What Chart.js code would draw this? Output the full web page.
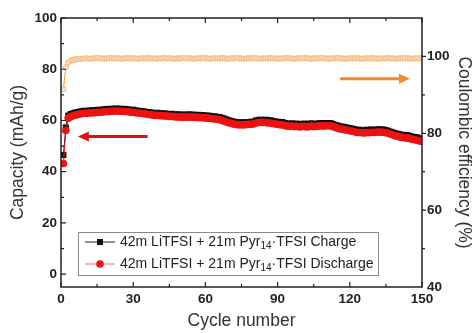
<!DOCTYPE html>
<html>
<head>
<meta charset="utf-8">
<script src="https://cdn.jsdelivr.net/npm/chart.js@4.4.0/dist/chart.umd.min.js"></script>
<style>
  html, body { margin: 0; padding: 0; background: #fff; }
</style>
</head>
<body>
<canvas id="chart" width="474" height="333"></canvas>
<script>
// capacity / coulombic efficiency vs cycle number

var charge = [
  46.5, 57.3, 61.9, 62.5, 62.8, 63.1, 63.3, 63.5, 63.7, 63.8,
  63.7, 63.9, 64.0, 63.9, 64.1, 64.2, 64.1, 64.4, 64.5, 64.4,
  64.6, 64.5, 64.7, 64.5, 64.6, 64.4, 64.5, 64.3, 64.1, 64.2,
  63.9, 63.8, 63.7, 63.6, 63.4, 63.3, 63.2, 63.0, 62.9, 63.0,
  62.8, 62.7, 62.8, 62.6, 62.5, 62.6, 62.4, 62.3, 62.4, 62.2,
  62.3, 62.2, 62.4, 62.2, 62.3, 62.1, 62.2, 62.0, 62.1, 61.9,
  61.9, 61.8, 61.6, 61.6, 61.4, 61.3, 61.0, 60.7, 60.3, 60.0,
  59.7, 59.5, 59.3, 59.2, 59.3, 59.2, 59.3, 59.4, 59.5, 59.5,
  60.0, 60.2, 60.3, 60.1, 60.3, 60.0, 60.1, 59.8, 59.6, 59.5,
  59.3, 59.4, 59.0, 58.8, 58.7, 58.9, 58.6, 58.8, 58.5, 58.6,
  58.8, 58.5, 58.7, 58.9, 58.6, 58.7, 58.9, 59.0, 58.8, 59.0,
  58.9, 59.0, 58.6, 58.3, 58.0, 57.7, 57.6, 57.4, 57.2, 57.0,
  56.8, 56.6, 56.3, 56.4, 56.2, 56.1, 56.4, 56.2, 56.5, 56.3,
  56.4, 56.6, 56.4, 56.5, 56.2, 56.0, 55.6, 55.3, 55.0, 54.8,
  54.5, 54.4, 54.2, 54.3, 53.9, 53.7, 53.5, 53.4, 53.0, 52.9
];

var discharge = [
  43.2, 56.1, 60.9, 61.5, 61.8, 62.1, 62.3, 62.5, 62.7, 62.8,
  62.8, 62.9, 63.0, 63.0, 63.1, 63.2, 63.2, 63.4, 63.5, 63.5,
  63.6, 63.6, 63.7, 63.6, 63.6, 63.5, 63.5, 63.4, 63.2, 63.2,
  63.0, 62.9, 62.8, 62.7, 62.5, 62.4, 62.3, 62.1, 62.0, 62.0,
  61.9, 61.8, 61.8, 61.7, 61.6, 61.6, 61.5, 61.4, 61.4, 61.3,
  61.3, 61.3, 61.4, 61.3, 61.3, 61.2, 61.2, 61.1, 61.1, 61.0,
  60.9, 60.8, 60.7, 60.6, 60.5, 60.3, 60.0, 59.7, 59.3, 59.0,
  58.8, 58.5, 58.4, 58.3, 58.3, 58.3, 58.4, 58.5, 58.5, 58.6,
  59.0, 59.2, 59.3, 59.2, 59.2, 59.0, 59.0, 58.8, 58.6, 58.5,
  58.3, 58.3, 58.0, 57.8, 57.7, 57.8, 57.6, 57.7, 57.5, 57.6,
  57.7, 57.5, 57.6, 57.8, 57.6, 57.7, 57.8, 57.9, 57.8, 57.9,
  57.9, 57.9, 57.6, 57.3, 57.0, 56.7, 56.6, 56.4, 56.2, 56.0,
  55.8, 55.6, 55.3, 55.3, 55.2, 55.1, 55.3, 55.2, 55.4, 55.3,
  55.4, 55.5, 55.4, 55.4, 55.2, 55.0, 54.6, 54.3, 54.0, 53.8,
  53.5, 53.4, 53.2, 53.2, 52.9, 52.7, 52.5, 52.3, 52.0, 51.8
];

var efficiency = [
  91.5, 97.2, 98.4, 98.9, 99.1, 99.3, 99.3, 99.4, 99.4, 99.5,
  99.5, 99.4, 99.5, 99.5, 99.6, 99.5, 99.5, 99.4, 99.5, 99.5,
  99.6, 99.5, 99.5, 99.5, 99.4, 99.5, 99.5, 99.6, 99.5, 99.5,
  99.5, 99.4, 99.5, 99.5, 99.5, 99.6, 99.5, 99.5, 99.5, 99.4,
  99.5, 99.5, 99.6, 99.5, 99.5, 99.5, 99.4, 99.5, 99.5, 99.5,
  99.6, 99.5, 99.5, 99.5, 99.4, 99.5, 99.5, 99.5, 99.6, 99.5,
  99.5, 99.4, 99.5, 99.5, 99.5, 99.5, 99.6, 99.5, 99.4, 99.5,
  99.5, 99.5, 99.6, 99.5, 99.5, 99.4, 99.5, 99.5, 99.5, 99.6,
  99.5, 99.5, 99.4, 99.5, 99.5, 99.5, 99.6, 99.5, 99.5, 99.4,
  99.5, 99.5, 99.5, 99.6, 99.5, 99.5, 99.4, 99.5, 99.5, 99.5,
  99.6, 99.5, 99.5, 99.4, 99.5, 99.5, 99.5, 99.6, 99.5, 99.5,
  99.4, 99.5, 99.5, 99.5, 99.6, 99.5, 99.5, 99.4, 99.5, 99.5,
  99.5, 99.6, 99.5, 99.5, 99.4, 99.5, 99.5, 99.5, 99.6, 99.5,
  99.5, 99.4, 99.5, 99.5, 99.5, 99.6, 99.5, 99.5, 99.4, 99.5,
  99.5, 99.5, 99.6, 99.5, 99.5, 99.4, 99.5, 99.5, 99.5, 99.5
];

var xTicks = [0, 30, 60, 90, 120, 150];
var yTicks = [0, 20, 40, 60, 80, 100];
var y2Ticks = [40, 60, 80, 100];

var legendText = ['42m LiTFSI + 21m Pyr', '14', '\u00b7TFSI '];
var seriesNames = ['Charge', 'Discharge'];

var cycles = [];
for (var i = 1; i <= charge.length; i++) cycles.push(i);

function pts(arr) {
  return arr.map((v, i) => ({ x: cycles[i], y: v }));
}

var tickFont = { family: 'Liberation Sans', size: 13.5, weight: 'bold' };
var titleFont = { family: 'Liberation Sans', size: 17.5 };

// frame + inward ticks + arrows
var framePlugin = {
  id: 'frame',
  afterDatasetsDraw(chart) {
    var ctx = chart.ctx, a = chart.chartArea;
    var sx = chart.scales.x, sy = chart.scales.y, sy2 = chart.scales.y2;
    ctx.save();
    ctx.strokeStyle = '#222';
    ctx.lineWidth = 1.5;
    ctx.strokeRect(a.left, a.top, a.right - a.left, a.bottom - a.top);
    ctx.lineWidth = 1.2;
    ctx.beginPath();
    for (var v = 0; v <= 150; v += 15) {
      var px = sx.getPixelForValue(v), len = v % 30 === 0 ? 5 : 3;
      ctx.moveTo(px, a.bottom); ctx.lineTo(px, a.bottom - len);
      ctx.moveTo(px, a.top); ctx.lineTo(px, a.top + len);
    }
    for (var v = 0; v <= 100; v += 10) {
      var py = sy.getPixelForValue(v), len = v % 20 === 0 ? 5 : 3;
      ctx.moveTo(a.left, py); ctx.lineTo(a.left + len, py);
    }
    for (var v = 50; v <= 100; v += 10) {
      var py = sy2.getPixelForValue(v), len = v % 20 === 0 ? 4 : 3;
      ctx.moveTo(a.right, py); ctx.lineTo(a.right + len, py);
    }
    ctx.stroke();

    arrow(ctx, sx.getPixelForValue(36), sy.getPixelForValue(53.7), sx.getPixelForValue(7), '#e01010');
    arrow(ctx, sx.getPixelForValue(116), sy2.getPixelForValue(94.2), sx.getPixelForValue(145), '#f08a30');
    ctx.restore();
  }
};

function arrow(ctx, x0, y, x1, color) {
  var dir = x1 > x0 ? 1 : -1;
  ctx.strokeStyle = color;
  ctx.fillStyle = color;
  ctx.lineWidth = 3;
  ctx.beginPath();
  ctx.moveTo(x0, y); ctx.lineTo(x1 - dir * 8, y);
  ctx.stroke();
  ctx.beginPath();
  ctx.moveTo(x1, y);
  ctx.lineTo(x1 - dir * 11, y - 5);
  ctx.lineTo(x1 - dir * 11, y + 5);
  ctx.closePath();
  ctx.fill();
}

// legend box inside the plot
var legendPlugin = {
  id: 'boxLegend',
  afterDraw(chart) {
    var ctx = chart.ctx;
    var rows = [
      { line: '#222', fill: '#111', shape: 'rect', name: seriesNames[0] },
      { line: '#f07070', fill: '#ee1111', shape: 'circle', name: seriesNames[1] }
    ];
    ctx.save();
    ctx.fillStyle = '#fff';
    ctx.fillRect(78, 232, 300, 43);
    ctx.strokeStyle = '#8a8a8a';
    ctx.lineWidth = 1;
    ctx.strokeRect(78.5, 232.5, 300, 43);
    rows.forEach(function (r, i) {
      var y = 242 + i * 22;
      ctx.strokeStyle = r.line;
      ctx.lineWidth = 1;
      ctx.beginPath(); ctx.moveTo(85, y); ctx.lineTo(115, y); ctx.stroke();
      ctx.fillStyle = r.fill;
      if (r.shape === 'rect') ctx.fillRect(97, y - 3, 6, 6);
      else { ctx.beginPath(); ctx.arc(100, y, 3.8, 0, Math.PI * 2); ctx.fill(); }
      ctx.fillStyle = '#222';
      ctx.textBaseline = 'middle';
      ctx.textAlign = 'left';
      var x = 120;
      ctx.font = '14px "Liberation Sans"';
      ctx.fillText(legendText[0], x, y);
      x += ctx.measureText(legendText[0]).width;
      ctx.font = '10px "Liberation Sans"';
      ctx.fillText(legendText[1], x, y + 4);
      x += ctx.measureText(legendText[1]).width;
      ctx.font = '14px "Liberation Sans"';
      ctx.fillText(legendText[2] + r.name, x, y);
    });
    ctx.restore();
  }
};

new Chart(document.getElementById('chart'), {
  type: 'line',
  data: {
    datasets: [
      {
        label: 'Discharge',
        data: pts(discharge),
        yAxisID: 'y',
        borderColor: '#ee1111',
        borderWidth: 1,
        pointStyle: 'circle',
        pointRadius: 3.8,
        pointBackgroundColor: '#ee1111',
        pointBorderWidth: 0
      },
      {
        label: 'Charge',
        data: pts(charge),
        yAxisID: 'y',
        borderColor: '#111',
        borderWidth: 1,
        pointStyle: 'rect',
        pointRadius: 4.3,
        pointBackgroundColor: '#111',
        pointBorderWidth: 0
      },
      {
        label: 'Coulombic efficiency',
        data: pts(efficiency),
        yAxisID: 'y2',
        borderColor: '#f2a85a',
        borderWidth: 1.2,
        pointStyle: 'circle',
        pointRadius: 2.6,
        pointBackgroundColor: '#fbe2c0',
        pointBorderColor: '#f2b470',
        pointBorderWidth: 1
      }
    ]
  },
  options: {
    responsive: false,
    animation: false,
    layout: { padding: { top: 18, left: 0, right: 0, bottom: 0 } },
    plugins: { legend: { display: false }, tooltip: { enabled: false } },
    scales: {
      x: {
        type: 'linear', position: 'bottom', min: 0, max: 150,
        afterBuildTicks: s => { s.ticks = xTicks.map(v => ({ value: v })); },
        afterFit: s => { s.height = 46; },
        grid: { display: false, drawTicks: false },
        border: { display: false },
        ticks: { font: tickFont, color: '#222', padding: 4 },
        title: { display: true, text: 'Cycle number', font: titleFont, color: '#333', padding: { top: 0, bottom: 1 } }
      },
      y: {
        position: 'left', min: -5, max: 100,
        afterBuildTicks: s => { s.ticks = yTicks.map(v => ({ value: v })); },
        afterFit: s => { s.width = 61; },
        grid: { display: false, drawTicks: false },
        border: { display: false },
        ticks: { font: tickFont, color: '#222', padding: 4 },
        title: { display: true, text: 'Capacity (mAh/g)', font: titleFont, color: '#333', padding: { top: 8, bottom: 0 } }
      },
      y2: {
        position: 'right', min: 40, max: 110,
        afterBuildTicks: s => { s.ticks = y2Ticks.map(v => ({ value: v })); },
        afterFit: s => { s.width = 52; },
        grid: { display: false, drawTicks: false },
        border: { display: false },
        ticks: { font: tickFont, color: '#222', padding: 5 },
        title: { display: true, text: 'Coulombic efficiency (%)', font: titleFont, color: '#333', padding: { top: 0, bottom: 0 } }
      }
    }
  },
  plugins: [framePlugin, legendPlugin]
});
</script>
</body>
</html>
